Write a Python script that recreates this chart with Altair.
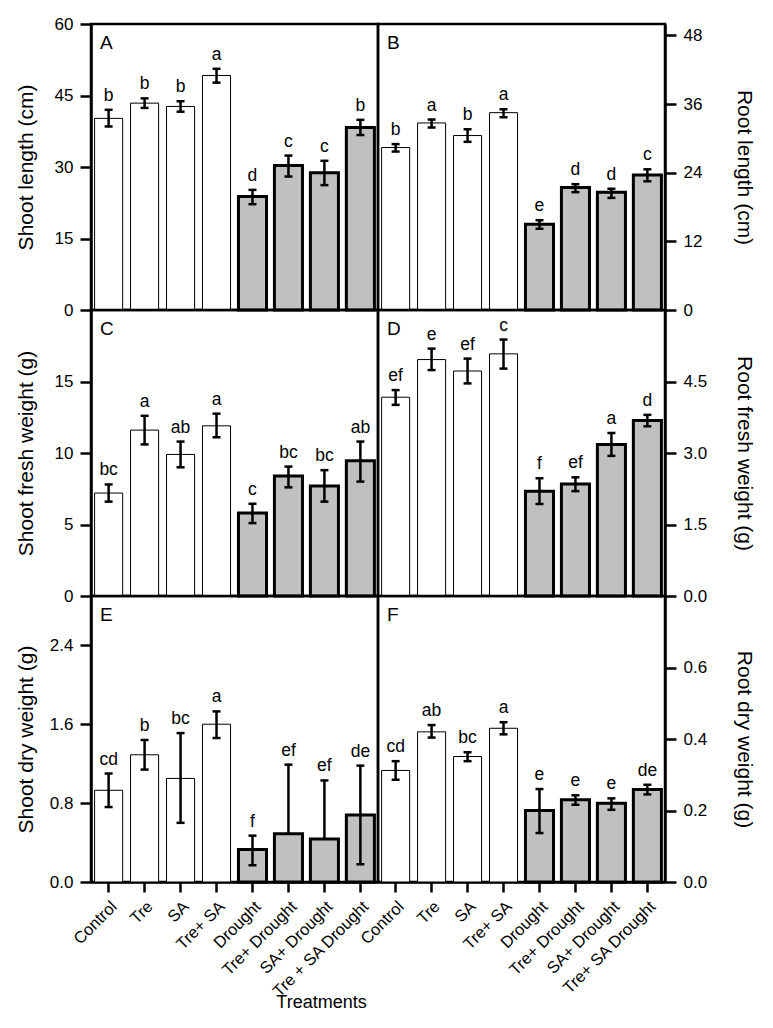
import altair as alt
import pandas as pd

# ---------------- data ----------------
cats_left = ["Control", "Tre", "SA", "Tre+ SA", "Drought", "Tre+ Drought", "SA+ Drought", "Tre + SA Drought"]
cats_right = ["Control", "Tre", "SA", "Tre+ SA", "Drought", "Tre+ Drought", "SA+ Drought", "Tre+ SA Drought"]
drought = [False, False, False, False, True, True, True, True]

# A: Shoot length (cm)
a_mean = [40.2, 43.4, 42.7, 49.2, 23.8, 30.3, 28.8, 38.3]
a_lo = [38.5, 42.4, 41.6, 47.7, 22.2, 28.0, 26.2, 36.7]
a_hi = [42.0, 44.4, 43.8, 50.6, 25.2, 32.4, 31.3, 39.9]
a_sig = ["b", "b", "b", "a", "d", "c", "c", "b"]

# B: Root length (cm)
b_mean = [28.4, 32.7, 30.5, 34.5, 15.0, 21.4, 20.6, 23.6]
b_lo = [27.7, 31.9, 29.4, 33.7, 14.2, 20.6, 19.6, 22.5]
b_hi = [29.0, 33.3, 31.6, 35.1, 15.7, 22.0, 21.2, 24.6]
b_sig = ["b", "a", "b", "a", "e", "d", "d", "c"]

# C: Shoot fresh weight (g)
c_mean = [7.2, 11.6, 9.9, 11.9, 5.8, 8.4, 7.7, 9.45]
c_lo = [6.6, 10.6, 9.0, 11.1, 5.1, 7.6, 6.6, 8.0]
c_hi = [7.8, 12.6, 10.8, 12.75, 6.45, 9.05, 8.8, 10.8]
c_sig = ["bc", "a", "ab", "a", "c", "bc", "bc", "ab"]

# D: Root fresh weight (g)
d_mean = [4.17, 4.96, 4.72, 5.08, 2.20, 2.35, 3.18, 3.68]
d_lo = [4.01, 4.74, 4.46, 4.77, 1.93, 2.20, 2.94, 3.56]
d_hi = [4.32, 5.19, 4.98, 5.38, 2.47, 2.49, 3.42, 3.80]
d_sig = ["ef", "e", "ef", "c", "f", "ef", "a", "d"]

# E: Shoot dry weight (g)
e_mean = [0.93, 1.29, 1.05, 1.60, 0.33, 0.49, 0.435, 0.68]
e_lo = [0.76, 1.14, 0.60, 1.46, 0.17, None, None, 0.18]
e_hi = [1.10, 1.44, 1.51, 1.73, 0.47, 1.19, 1.03, 1.18]
e_sig = ["cd", "b", "bc", "a", "f", "ef", "ef", "de"]

# F: Root dry weight (g)
f_mean = [0.312, 0.420, 0.351, 0.430, 0.200, 0.230, 0.220, 0.259]
f_lo = [0.286, 0.404, 0.338, 0.413, 0.137, 0.216, 0.202, 0.245]
f_hi = [0.338, 0.439, 0.363, 0.447, 0.260, 0.2425, 0.234, 0.272]
f_sig = ["cd", "ab", "bc", "a", "e", "e", "e", "de"]

FONT = "Liberation Sans"
W, H = 287, 286


def make_panel(cats, mean, lo, hi, sig, domain, ticks, fmt, title, orient, letter, xaxis):
    df = pd.DataFrame({
        "cat": cats,
        "mean": mean,
        "lo": [l if l is not None else m for l, m in zip(lo, mean)],
        "haslo": [l is not None for l in lo],
        "hi": hi,
        "sig": sig,
        "drought": drought,
    })
    xs = alt.Scale(paddingInner=0.22, paddingOuter=0.1)
    x = alt.X("cat:N", sort=cats, scale=xs, axis=xaxis, title=None)
    ys = alt.Scale(domain=domain, nice=False, zero=True)
    tx = -65 if orient == "left" else 78
    yaxis = alt.Axis(values=ticks, format=fmt, orient=orient, title=title,
                     titleX=tx, titleY=H / 2, titleAlign="center", titleBaseline="middle",
                     titleFontSize=21, labelFontSize=17, tickSize=11, tickWidth=2.5,
                     labelPadding=7, domainWidth=2.5, grid=False)

    def Y(field):
        return alt.Y(field, scale=ys, axis=yaxis, title=title)

    base = alt.Chart(df)
    white = base.transform_filter("!datum.drought").mark_bar(
        fill="white", stroke="black", strokeWidth=1, opacity=1).encode(x=x, y=Y("mean:Q"))
    grey = base.transform_filter("datum.drought").mark_bar(
        fill="#c0c0c0", stroke="black", strokeWidth=3, opacity=1).encode(x=x, y=Y("mean:Q"))
    rule = base.mark_rule(color="black", strokeWidth=2.5).encode(
        x=x, y=Y("lo:Q"), y2="hi:Q")
    caphi = base.mark_tick(color="black", size=8, thickness=2.5, opacity=1, orient="horizontal").encode(
        x=x, y=Y("hi:Q"))
    caplo = base.transform_filter("datum.haslo").mark_tick(
        color="black", size=8, thickness=2.5, opacity=1, orient="horizontal").encode(
        x=x, y=Y("lo:Q"))
    text = base.mark_text(baseline="bottom", dy=-5, fontSize=17.5, font=FONT, color="black").encode(
        x=x, y=Y("hi:Q"), text="sig:N")
    lab = alt.Chart(pd.DataFrame({"t": [letter]})).mark_text(
        align="left", baseline="top", fontSize=19, font=FONT, color="black").encode(
        x=alt.value(9), y=alt.value(10), text="t:N")
    return alt.layer(white, grey, rule, caphi, caplo, text, lab).properties(width=W, height=H)


xaxis_common = dict(labelAngle=-45, labelAlign="right", labelBaseline="top", labelFontSize=16.5,
                    labelPadding=6, tickSize=10, tickWidth=2.5, domainWidth=2.5, grid=False)
xaxis_E = alt.Axis(title="Treatments", titleX=230, titleY=120, titleAlign="center",
                   titleBaseline="middle", titleFontSize=18, **xaxis_common)
xaxis_F = alt.Axis(title=None, **xaxis_common)

pA = make_panel(cats_left, a_mean, a_lo, a_hi, a_sig, [0, 60], [0, 15, 30, 45, 60], "d",
                "Shoot length (cm)", "left", "A", None)
pB = make_panel(cats_left, b_mean, b_lo, b_hi, b_sig, [0, 50], [0, 12, 24, 36, 48], "d",
                "Root length (cm)", "right", "B", None)
pC = make_panel(cats_left, c_mean, c_lo, c_hi, c_sig, [0, 20], [0, 5, 10, 15], "d",
                "Shoot fresh weight (g)", "left", "C", None)
pD = make_panel(cats_left, d_mean, d_lo, d_hi, d_sig, [0, 6], [0, 1.5, 3.0, 4.5], ".1f",
                "Root fresh weight (g)", "right", "D", None)
pE = make_panel(cats_left, e_mean, e_lo, e_hi, e_sig, [0, 2.9], [0, 0.8, 1.6, 2.4], ".1f",
                "Shoot dry weight (g)", "left", "E", xaxis_E)
pF = make_panel(cats_right, f_mean, f_lo, f_hi, f_sig, [0, 0.8], [0, 0.2, 0.4, 0.6], ".1f",
                "Root dry weight (g)", "right", "F", xaxis_F)

chart = alt.concat(pA, pB, pC, pD, pE, pF, columns=2, spacing=0, bounds="flush").properties(
    padding={"left": 5, "top": 5, "right": 5, "bottom": 5}
).configure_view(
    stroke="black", strokeWidth=2.5
).configure_axis(
    labelFont=FONT, titleFont=FONT, labelColor="black", titleColor="black",
    domainColor="black", tickColor="black", titleFontWeight="normal"
)

chart.save("out.html", embed_options={"renderer": "svg", "actions": False})
